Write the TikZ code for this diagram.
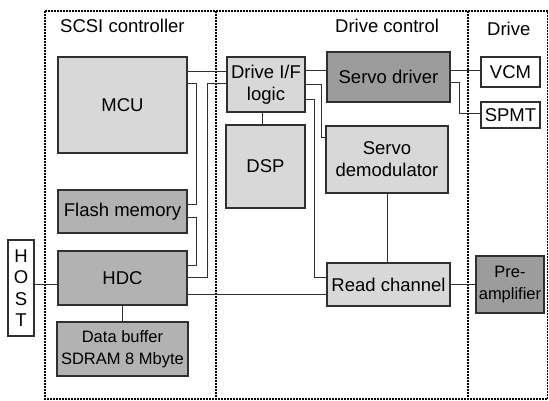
\documentclass[tikz,border=0pt]{standalone}
\usepackage{fontspec}
\setmainfont{Liberation Sans}
\usepackage{xcolor}
\usepackage{tikz}
\usetikzlibrary{calc}
\definecolor{mylight}{HTML}{D8D8D8}
\definecolor{mymid}{HTML}{B2B2B2}
\definecolor{mydark}{HTML}{9C9C9C}
\definecolor{myborder}{HTML}{303030}
\tikzset{
block/.style={
draw=myborder,
fill=mylight,
line width=1.2pt,
inner sep=1pt,
align=center,
font=\fontsize{18.5}{22}\selectfont
},
blockMid/.style={
block,
fill=mymid
},
blockDark/.style={
block,
fill=mydark
},
blockWhite/.style={
block,
fill=white
},
smalltext/.style={
font=\fontsize{16.5}{21.5}\selectfont
},
labelbox/.style={
inner sep=0pt,
font=\fontsize{18.5}{22}\selectfont
},
region/.style={
draw=black,
line width=1.3pt,
dash pattern=on 2pt off 1pt
},
link/.style={
draw=myborder,
line width=0.9pt
}
}

\begin{document}
\begin{tikzpicture}[x=1pt,y=-1pt]
\useasboundingbox (0,0) rectangle (549,401);

% dotted regions
\draw[region] (45,11) rectangle (547.5,399);
\draw[region] (216,11) -- (216,399);
\draw[region] (468,11) -- (468,399);

\node[labelbox, anchor=base west] (scsi) at (60,33) {SCSI controller};
\node[labelbox, anchor=base west] (drvctl) at (335,33) {Drive control};
\node[labelbox, anchor=base west] (drive) at (487,36) {Drive};

% SCSI controller
\node[block, minimum width=129pt, minimum height=96pt] (mcu) at (122.5,105) {MCU};
\node[blockMid, minimum width=129pt, minimum height=43pt] (flash) at (122.5,211.5) {Flash memory};
\node[blockMid, minimum width=129pt, minimum height=54pt] (hdc) at (122.5,278) {HDC};
\node[blockMid, smalltext, minimum width=131pt, minimum height=54pt] (buffer) at (122.5,349) {Data buffer\\SDRAM 8 Mbyte};
\node[blockWhite, minimum width=26pt, minimum height=96pt, font=\fontsize{18.5}{21.5}\selectfont] (host) at (21,288) {H\\O\\S\\T};

% drive control
\node[block, minimum width=78pt, minimum height=55pt] (dif) at (266,84.5) {Drive I/F\\logic};
\node[block, minimum width=79pt, minimum height=83pt] (dsp) at (265.5,166.5) {DSP};
\node[blockDark, minimum width=123pt, minimum height=50pt] (sdrv) at (388.5,77) {Servo driver};
\node[block, minimum width=122pt, minimum height=67pt] (sdem) at (387,159.5) {Servo\\demodulator};
\node[block, minimum width=123pt, minimum height=43pt] (rch) at (388.5,284.5) {Read channel};

% drive
\node[blockWhite, minimum width=59pt, minimum height=30pt] (vcm) at (510.5,72) {VCM};
\node[blockWhite, minimum width=59pt, minimum height=26pt] (spmt) at (510.5,115) {SPMT};
\node[blockDark, smalltext, minimum width=68pt, minimum height=57pt] (pre) at (510,284.5) {Pre-\\amplifier};

% buses
\draw[link] ([yshift=-15pt]mcu.north east) -- ([yshift=-15pt]dif.north west);
\draw[link] ([yshift=-27pt]mcu.north east) -- ++(9,0) |- ([yshift=-15pt]flash.north east);
\draw[link] ([yshift=-28pt]flash.north east) -- ++(9,0) |- ([yshift=-15pt]hdc.north east);
\draw[link] ([yshift=-27pt]dif.north west) -- ++(-19,0) |- ([yshift=-27pt]hdc.north east);
\draw[link] ([yshift=-16pt]hdc.east) -- ([yshift=-9.5pt]rch.west);
\draw[link] ([yshift=4pt]host.east) -- ([yshift=-6pt]hdc.west);
\draw[link] (hdc.south) -- (buffer.north);

\draw[link] ([xshift=-4pt]dif.south) -- ([xshift=-3.5pt]dsp.north);
\draw[link] ([yshift=-14pt]dif.north east) -- ([yshift=-19pt]sdrv.north west);
\draw[link] ([yshift=-28pt]dif.north east) -- ++(16,0) |- ([yshift=-12pt]sdem.north west);
\draw[link] ([yshift=-43pt]dif.north east) -- ++(9,0) |- ([yshift=-15pt]rch.north west);
\draw[link] (sdem.south) -- (sdem.south |- rch.north);

\draw[link] ([yshift=-19pt]sdrv.north east) -- ([yshift=-14pt]vcm.north west);
\draw[link] ([yshift=-31pt]sdrv.north east) -- ++(9,0) |- ([yshift=2pt]spmt.west);
\draw[link] (rch.east) -- (pre.west);

\end{tikzpicture}
\end{document}
